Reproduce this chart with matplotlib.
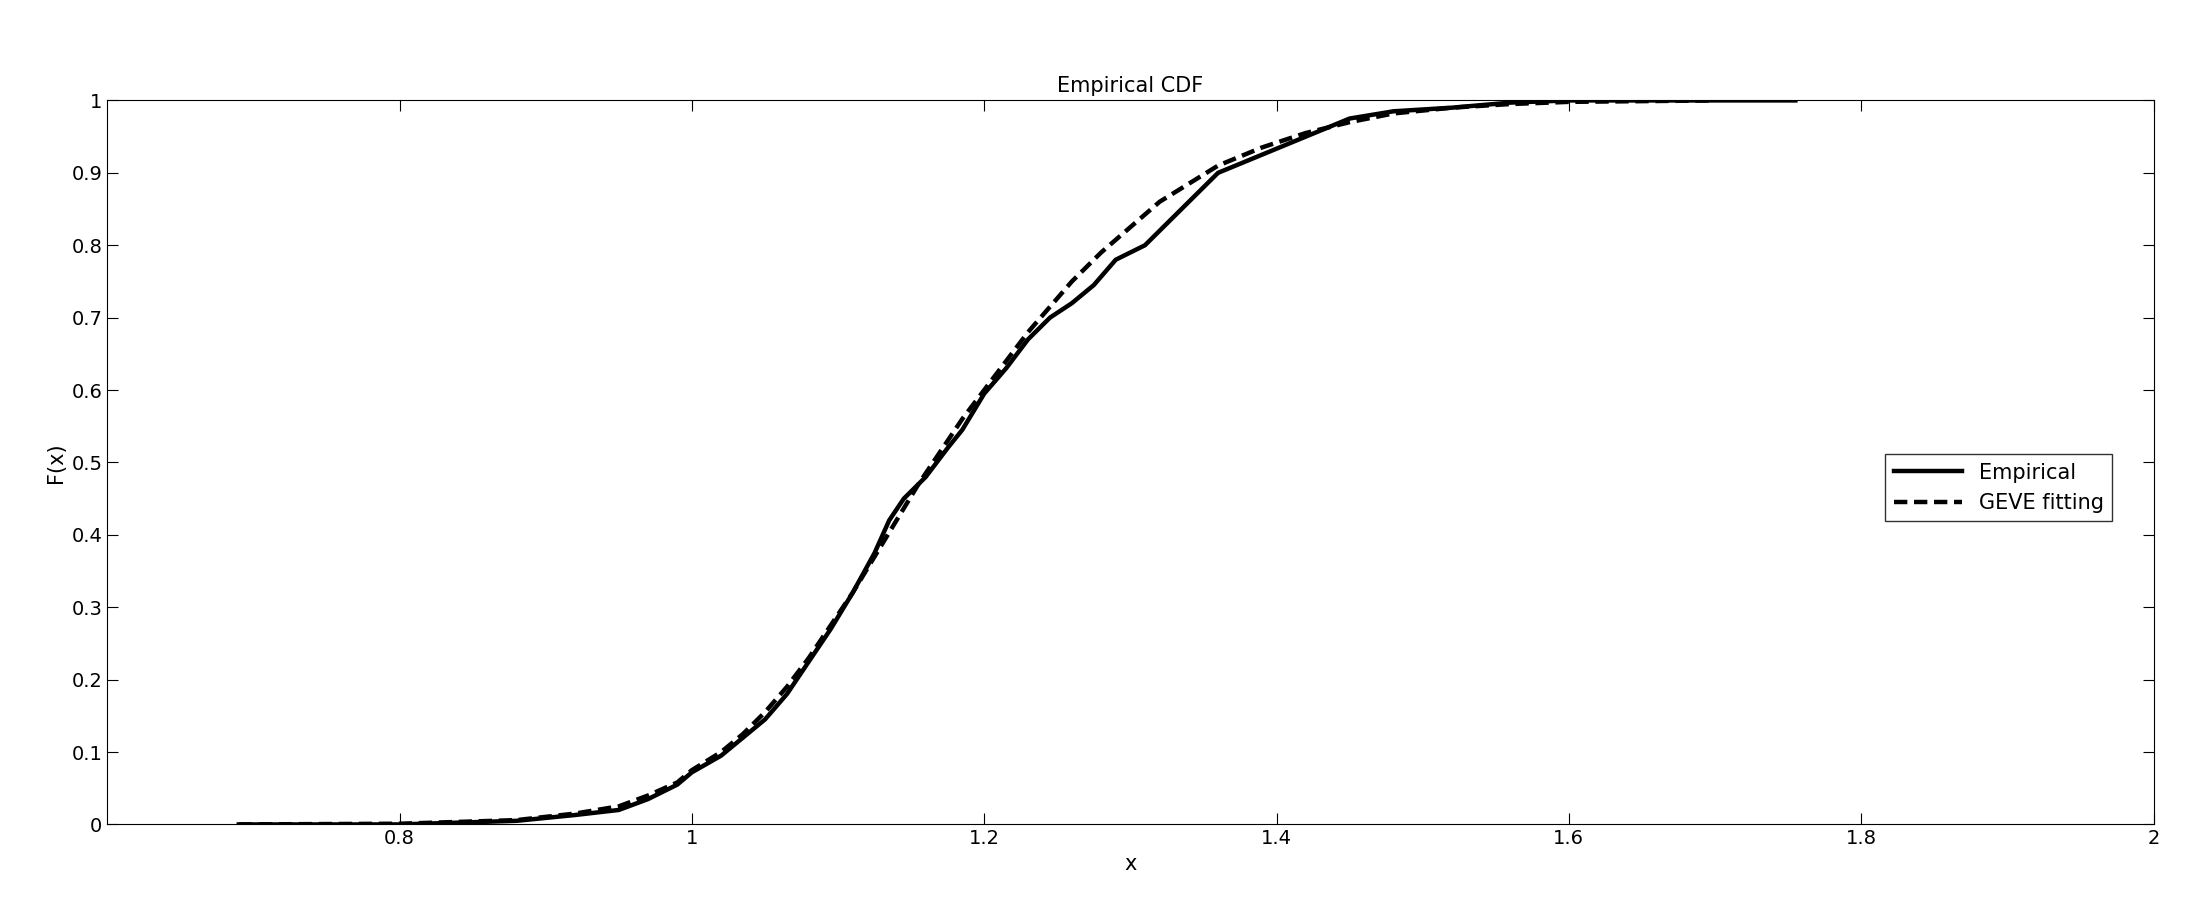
import matplotlib
matplotlib.use("Agg")
import matplotlib.pyplot as plt

emp_x = [0.69, 0.80, 0.88, 0.92, 0.95, 0.97, 0.99, 1.00, 1.02, 1.035, 1.05, 1.065, 1.08, 1.095, 1.11, 1.125,
         1.135, 1.145, 1.16, 1.175, 1.185, 1.20, 1.215, 1.23, 1.245, 1.26, 1.275, 1.29, 1.31, 1.33,
         1.36, 1.39, 1.42, 1.45, 1.48, 1.52, 1.56, 1.60, 1.70, 1.755]
emp_y = [0.0, 0.0, 0.005, 0.013, 0.02, 0.035, 0.055, 0.072, 0.095, 0.12, 0.145, 0.18, 0.225, 0.27, 0.32, 0.375,
         0.42, 0.45, 0.48, 0.52, 0.545, 0.595, 0.63, 0.67, 0.70, 0.72, 0.745, 0.78, 0.80, 0.84,
         0.90, 0.925, 0.95, 0.975, 0.985, 0.99, 0.997, 1.0, 1.0, 1.0]
gev_x = [0.69, 0.80, 0.88, 0.92, 0.95, 0.97, 0.99, 1.00, 1.02, 1.035, 1.05, 1.065, 1.08, 1.095, 1.11, 1.125,
         1.14, 1.155, 1.17, 1.185, 1.20, 1.215, 1.23, 1.245, 1.26, 1.28, 1.30, 1.32, 1.34, 1.36,
         1.39, 1.42, 1.45, 1.48, 1.52, 1.56, 1.60, 1.65, 1.70]
gev_y = [0.0, 0.001, 0.006, 0.015, 0.025, 0.04, 0.058, 0.075, 0.10, 0.125, 0.155, 0.19, 0.23, 0.275, 0.32, 0.37,
         0.42, 0.47, 0.515, 0.56, 0.60, 0.64, 0.68, 0.715, 0.75, 0.79, 0.825, 0.86, 0.885, 0.91,
         0.935, 0.955, 0.97, 0.982, 0.99, 0.995, 0.998, 0.999, 1.0]

fig = plt.figure(figsize=(22.11, 9.13), dpi=100)
ax = fig.add_axes([0.0485, 0.097, 0.9255, 0.793])
ax.plot(emp_x, emp_y, color="black", lw=3.2, solid_joinstyle="round", label="Empirical")
ax.plot(gev_x, gev_y, color="black", lw=3.2, ls=(0, (3, 1.5)), label="GEVE fitting")
ax.set_xlim(0.6, 2)
ax.set_ylim(0, 1)
ax.set_xticks([0.8, 1, 1.2, 1.4, 1.6, 1.8, 2])
ax.set_xticklabels(["0.8", "1", "1.2", "1.4", "1.6", "1.8", "2"])
ax.set_yticks([i / 10 for i in range(11)])
ax.set_yticklabels(["0"] + [f"0.{i}" for i in range(1, 10)] + ["1"])
ax.tick_params(direction="in", top=True, right=True, labelsize=14, length=8)
ax.set_xlabel("x", fontsize=15)
ax.set_ylabel("F(x)", fontsize=15)
ax.set_title("Empirical CDF", fontsize=15)
ax.legend(loc="center right", bbox_to_anchor=(0.985, 0.465), fontsize=15, frameon=True,
          fancybox=False, edgecolor="black", handlelength=3.3, borderpad=0.4)
fig.savefig("out.png", dpi=100)
